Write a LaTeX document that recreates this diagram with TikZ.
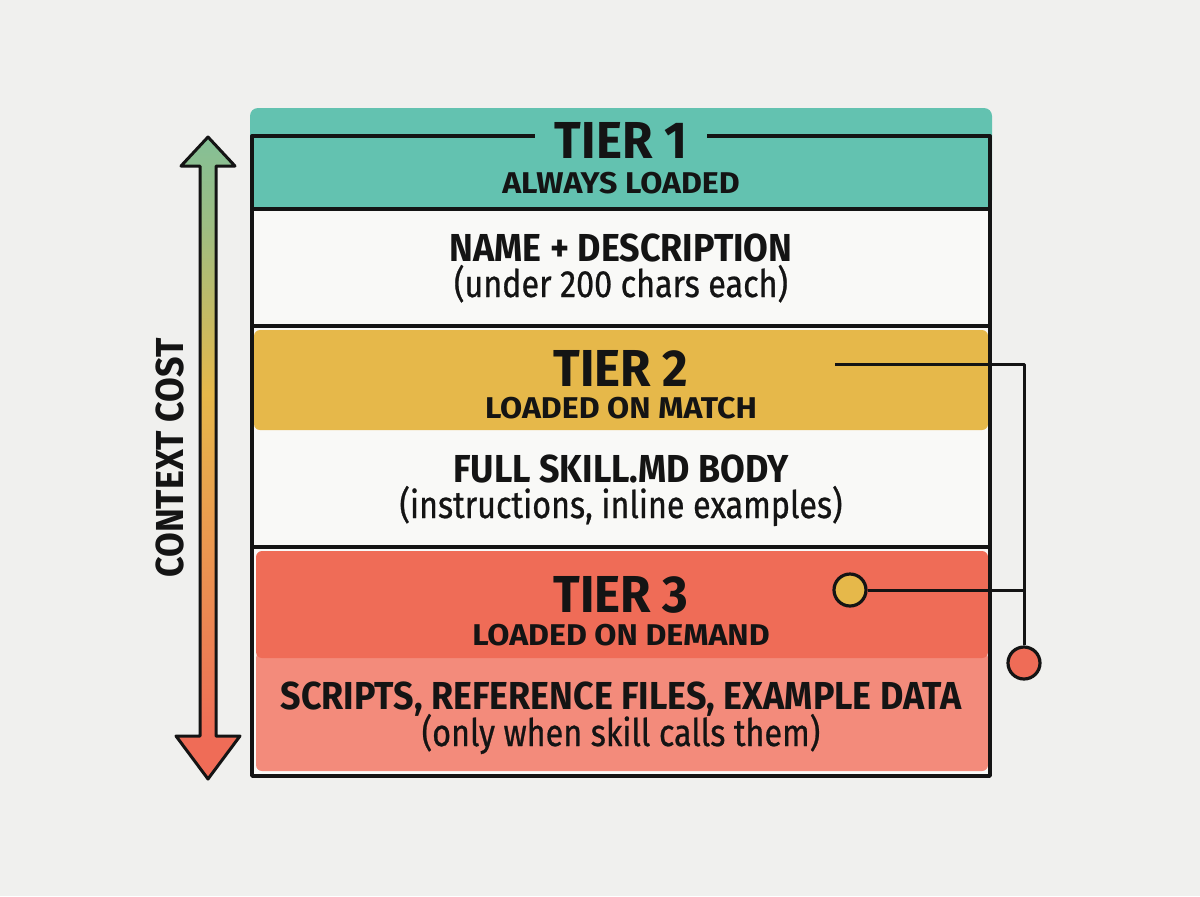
\documentclass[tikz,border=0pt]{standalone}
\usepackage{fontspec}
\setmainfont{Fira Sans}
\newfontfamily\tierfont{Fira Sans}[FakeStretch=0.95]
\newfontfamily\tagfont{Fira Sans}[FakeStretch=1.07]
\newfontfamily\headfont{Fira Sans}[FakeStretch=0.92]
\newfontfamily\notefont{Fira Sans}[FakeStretch=0.85, FakeBold=0.7]
\definecolor{paper}{HTML}{F0F0EE}
\definecolor{panel}{HTML}{F9F9F7}
\definecolor{ink}{HTML}{141414}
\definecolor{tealband}{HTML}{63C2B0}
\definecolor{goldband}{HTML}{E6B84A}
\definecolor{redband}{HTML}{EF6C57}
\definecolor{salmon}{HTML}{F38B7B}
\colorlet{midorange}{goldband!45!redband}
\colorlet{midgreen}{goldband!45!tealband}
\pgfdeclareverticalshading{costgrad}{100bp}{color(0bp)=(redband); color(28bp)=(redband); color(40bp)=(midorange); color(55bp)=(goldband); color(68bp)=(midgreen); color(84bp)=(tealband); color(100bp)=(tealband)}

\begin{document}
\begin{tikzpicture}[x=0.5pt, y=-0.5pt, line join=round,
	title/.style={font=\tierfont\bfseries\fontsize{26}{28}\selectfont, text=ink, anchor=base, inner ysep=0pt},
	tag/.style={font=\tagfont\bfseries\fontsize{15}{17}\selectfont, text=ink, anchor=base, inner ysep=0pt},
	head/.style={font=\headfont\bfseries\fontsize{19.5}{21}\selectfont, text=ink, anchor=base, inner ysep=0pt},
	note/.style={font=\notefont\fontsize{19}{21}\selectfont, text=ink, anchor=base, inner ysep=0pt},
	dot/.style={circle, draw=ink, line width=1.6pt, minimum size=16pt, inner sep=0pt},
	rule/.style={draw=ink, line width=1.7pt},
	wire/.style={draw=ink, line width=1.5pt}]
	% Background and tier bands
	\fill[paper] (0,0) rectangle (1200,896);
	\fill[panel] (252,136) rectangle (990,776);
	\fill[tealband, rounded corners=4pt] (250,108) rectangle (992,208);
	\fill[goldband, rounded corners=3pt] (254,330) rectangle (988,430);
	\fill[salmon, rounded corners=3pt] (256,652) rectangle (988,771);
	\fill[redband, rounded corners=3pt] (256,551) rectangle (988,658);
	% Frame and dividers
	\draw[rule] (252,136) rectangle (990,776);
	\draw[rule] (252,209) -- (990,209);
	\draw[rule] (252,326) -- (990,326);
	\draw[rule] (252,547) -- (990,547);
	% Specification of nodes (position, etc.)
	\node (Tier1Title)	[title, fill=tealband, inner xsep=10pt, inner ysep=2pt] at (621,158) {TIER 1};
	\node (Tier1Tag)	[tag]	at (621,193) {ALWAYS LOADED};
	\node (Tier1Head)	[head]	at (621,261) {NAME + DESCRIPTION};
	\node (Tier1Note)	[note]	at (621,297) {(under 200 chars each)};
	\node (Tier2Title)	[title]	at (621,386) {TIER 2};
	\node (Tier2Tag)	[tag]	at (621,418) {LOADED ON MATCH};
	\node (Tier2Head)	[head]	at (621,482) {FULL SKILL.MD BODY};
	\node (Tier2Note)	[note]	at (621,518) {(instructions, inline examples)};
	\node (Tier3Title)	[title]	at (621,612) {TIER 3};
	\node (Tier3Tag)	[tag]	at (621,645) {LOADED ON DEMAND};
	\node (Tier3Head)	[head]	at (621,709) {SCRIPTS, REFERENCE FILES, EXAMPLE DATA};
	\node (Tier3Note)	[note]	at (621,746) {(only when skill calls them)};
	\node (CostLabel)	[head, anchor=center, rotate=90] at (170,458) {CONTEXT COST};
	% Cost arrow
	\shadedraw[shading=costgrad, draw=ink, line width=1.5pt] (208,137) -- (235,166) -- (216,166) -- (216,736) -- (240,736) -- (208,779) -- (176,736) -- (200,736) -- (200,166) -- (181,166) -- cycle;
	% Links on the right
	\coordinate (Tier2Tap) at (835,364);
	\node (GoldDot)	[dot, fill=goldband]	at (850,590) {};
	\node (RedDot)	[dot, fill=redband]	at (1024,663) {};
	\draw[wire] (Tier2Tap) -| (RedDot);
	\draw[wire] (GoldDot) -- (GoldDot -| RedDot);
\end{tikzpicture}
\end{document}
